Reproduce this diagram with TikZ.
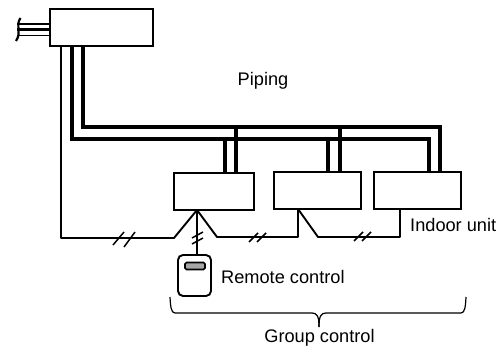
\documentclass[tikz,border=0pt]{standalone}
\usepackage{fontspec}
\setmainfont{Liberation Sans}
\usepackage{tikz}

\tikzset{
  unitbox/.style={draw,line width=1.9pt,inner sep=0pt,fill=white},
  label/.style={inner sep=0pt,font=\fontsize{18.2}{20}\selectfont},
  pipe/.style={line width=4pt,line join=miter},
  wire/.style={line width=1.9pt,line join=round},
  tick/.style={line width=1.5pt}
}

\begin{document}
\begin{tikzpicture}[x=1pt,y=-1pt]

\useasboundingbox (0,0) rectangle (502,347);

% pipes
\coordinate (pa) at (83,127);
\coordinate (pb) at (71.5,139.5);
\draw[pipe] (83,46) -- (pa) -- (440,127) -- (440,172);
\draw[pipe] (71.5,46) -- (pb) -- (429,139.5) -- (429,172);
\draw[pipe] (225,139.5) -- (225,172);
\draw[pipe] (236,127) -- (236,172);
\draw[pipe] (328,139.5) -- (328,172);
\draw[pipe] (340,127) -- (340,172);

% units
\node[unitbox,minimum width=103pt,minimum height=37pt] (outdoor) at (101.5,27.5) {};
\node[unitbox,minimum width=80pt,minimum height=37pt] (unita) at (214,191.5) {};
\node[unitbox,minimum width=87pt,minimum height=37pt] (unitb) at (317.5,190.5) {};
\node[unitbox,minimum width=87pt,minimum height=37pt] (unitc) at (417.5,190.5) {};

% remote control
\node[unitbox,rounded corners=5pt,minimum width=33pt,minimum height=41pt] (remote) at (194.5,275.5) {};
\node[draw,line width=1.6pt,rounded corners=1.5pt,fill=black!35,inner sep=0pt,minimum width=20pt,minimum height=7pt] (display) at (195,266) {};

% refrigerant stubs
\draw[line width=1.9pt] (17,24) -- (outdoor.west |- 0,24);
\draw[line width=3pt] (17,30) -- (outdoor.west |- 0,30);
\draw[line width=1.9pt] (17,35.5) -- (outdoor.west |- 0,35.5);
\draw[line width=2.2pt] (20.5,18) .. controls (15,26) and (22,32) .. (16,41);

% wiring
\coordinate (ja) at (197,210);
\coordinate (jb) at (298,209);
\draw[wire] (61,46) -- (61,238) -- (174,238) -- (ja);
\draw[wire] (ja) -- (197,255);
\draw[wire] (ja) -- (217,237) -- (298,237) -- (jb);
\draw[wire] (jb) -- (318,237) -- (400,237) -- (400,209);

% ticks
\draw[tick] (113,245) -- (124,232);
\draw[tick] (124,247) -- (135,232);
\draw[tick] (249,242) -- (258,233);
\draw[tick] (257,242) -- (266,233);
\draw[tick] (192,238) -- (203,232);
\draw[tick] (192,244) -- (203,238);
\draw[tick] (354,241) -- (363,232);
\draw[tick] (362,241) -- (371,232);

% group brace
\draw[line width=1.2pt] (170,297) .. controls (170.5,306) and (171,313) .. (175,313)
  -- (312,313) .. controls (317,313) and (319,316) .. (319,327);
\draw[line width=1.2pt] (466,297) .. controls (465.5,306) and (465,313) .. (461,313)
  -- (326,313) .. controls (321,313) and (319,316) .. (319,327);

% labels
\node[label,anchor=base] (piping) at (263,86) {Piping};
\node[label,anchor=base west] (indoor) at (410,231) {Indoor unit};
\node[label,anchor=base west] (remotelabel) at (221,283) {Remote control};
\node[label,anchor=base] (group) at (319.5,342) {Group control};

\end{tikzpicture}
\end{document}
